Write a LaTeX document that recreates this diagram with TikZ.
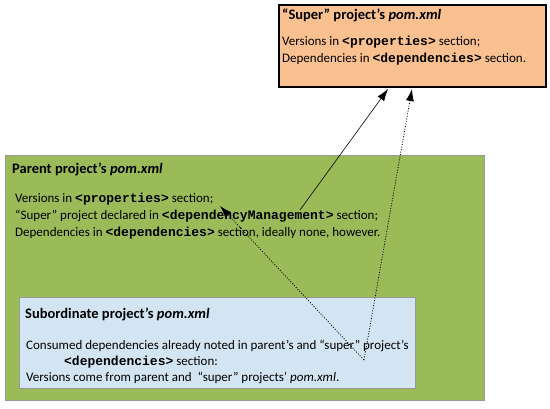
\documentclass[tikz,border=0pt]{standalone}
\usepackage{fontspec}
\setmainfont{Carlito}
\newfontfamily\codefont{Liberation Mono}
\usetikzlibrary{arrows.meta, positioning, calc}
\definecolor{superorange}{HTML}{FAC090}
\definecolor{parentgreen}{HTML}{9BBB59}
\definecolor{subblue}{HTML}{D3E5F3}
\newcommand{\xmltag}[1]{{\codefont\bfseries <#1>}}

\begin{document}
\begin{tikzpicture}[x=1pt, y=-1pt, >={Latex[length=12pt, width=8pt]},
  font=\fontsize{13}{17}\selectfont,
  pombox/.style={draw=gray!80, anchor=north west, inner sep=0pt},
  pomtitle/.style={anchor=north west, inner sep=0pt, font=\fontsize{14.5}{17}\selectfont\bfseries},
  pomtext/.style={anchor=north west, align=left, inner sep=0pt},
  dotlink/.style={->, line width=0.8pt, dash pattern=on 1pt off 1.6pt}]
  \useasboundingbox (0,0) rectangle (550,408);
  % boxes
  \node[pombox, fill=superorange, draw=black, line width=2pt, minimum width=267, minimum height=82] (super) at (278,4) {};
  \node[pombox, fill=parentgreen, minimum width=479, minimum height=245] (parent) at (5,155) {};
  \node[pombox, fill=subblue, minimum width=396, minimum height=91] (sub) at (19,297) {};
  % texts
  \node[pomtitle] (supertitle) at (282,9) {“Super” project's \textit{pom.xml}};
  \node[pomtext] (superbody) at (282,36) {Versions in \xmltag{properties} section;\\
    Dependencies in \xmltag{dependencies} section.};
  \node[pomtitle] (parenttitle) at (12,163) {Parent project's \textit{pom.xml}};
  \node[pomtext] (parentbody) at (15,193) {Versions in \xmltag{properties} section;\\
    “Super” project declared in \xmltag{dependencyManagement} section;\\
    Dependencies in \xmltag{dependencies} section, ideally none, however.};
  \node[pomtitle] (subtitle) at (25,308) {Subordinate project's \textit{pom.xml}};
  \node[pomtext, font=\fontsize{13}{16}\selectfont] (subbody) at (26,340) {Consumed dependencies already noted in parent's and “super” project's\\
    \hspace*{38pt}\xmltag{dependencies} section:\\
    Versions come from parent and \ “super” projects' \textit{pom.xml}.};
  % connector ends
  \coordinate (mgmt) at (300,210);
  \coordinate (supervals) at (364,360);
  \coordinate (parentprops) at (220,206);
  % connectors
  \draw[->, semithick] (mgmt) -- ($(super.south west)+(110,1)$);
  \draw[dotlink] (supervals) -- ($(super.south west)+(134,1)$);
  \draw[dotlink] (supervals) -- (parentprops);
\end{tikzpicture}
\end{document}
